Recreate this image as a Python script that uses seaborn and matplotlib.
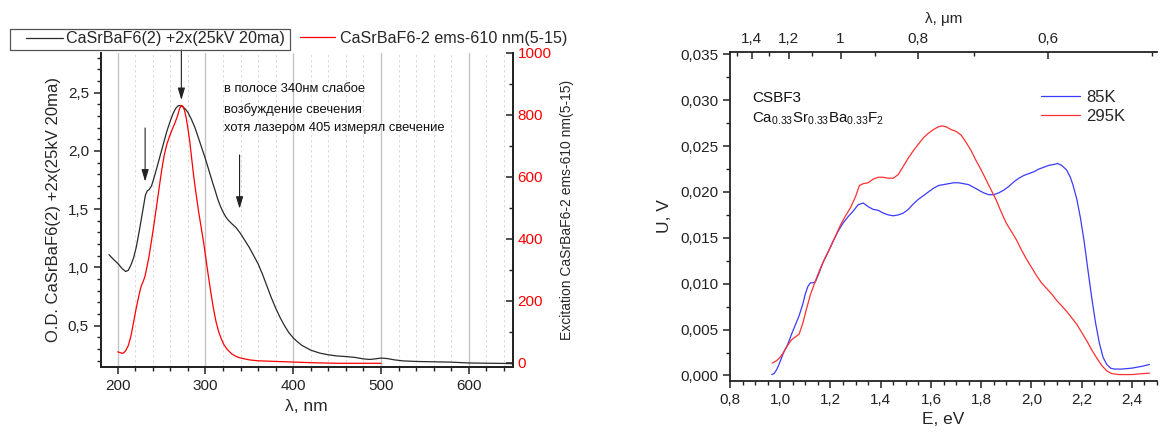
import numpy as np
import pandas as pd
import matplotlib
matplotlib.use("Agg")
import matplotlib.pyplot as plt
from matplotlib.ticker import MultipleLocator, FuncFormatter, FixedLocator
from matplotlib.lines import Line2D
from matplotlib.patches import Rectangle
import seaborn as sns

# ---- absorption / excitation spectra (left panel) ----
od_nm = [190, 195, 200, 205, 209, 212, 215, 218, 221, 224, 227, 229.5, 231.5, 233.5, 236,
         238.5, 241, 244, 248, 252, 256, 260, 263, 266, 269, 271, 274, 277, 280, 284, 288,
         292, 296, 300, 304, 308, 311, 314, 317, 320, 323, 326, 330, 335, 340, 345, 350,
         355, 360, 365, 370, 375, 380, 385, 390, 395, 400, 405, 410, 415, 420, 430, 440,
         450, 460, 470, 480, 487, 493, 500, 507, 515, 525, 540, 560, 580, 600, 620, 640, 650]
od_val = [1.11, 1.07, 1.035, 0.99, 0.965, 0.975, 1.02, 1.08, 1.17, 1.29, 1.42, 1.53, 1.62,
          1.655, 1.67, 1.70, 1.76, 1.84, 1.95, 2.06, 2.17, 2.26, 2.32, 2.365, 2.388, 2.39,
          2.38, 2.36, 2.33, 2.27, 2.20, 2.11, 2.02, 1.93, 1.83, 1.73, 1.66, 1.585, 1.525,
          1.475, 1.435, 1.405, 1.375, 1.34, 1.29, 1.23, 1.17, 1.10, 1.03, 0.94, 0.84, 0.74,
          0.65, 0.57, 0.50, 0.44, 0.395, 0.36, 0.33, 0.31, 0.29, 0.265, 0.25, 0.24, 0.235,
          0.228, 0.215, 0.21, 0.215, 0.222, 0.218, 0.207, 0.198, 0.193, 0.19, 0.187, 0.18,
          0.178, 0.176, 0.174]

exc_nm = [200, 203, 206, 209, 212, 215, 218, 221, 224, 226.5, 229, 231, 233, 235.5, 238,
          241, 244, 247, 250, 253, 256, 259, 262, 265, 268, 270, 272, 274, 276, 278, 280,
          282, 284, 286, 288, 290, 292, 294, 296, 298, 300, 303, 306, 309, 312, 315, 318,
          321, 325, 330, 335, 340, 350, 360, 380, 400, 420, 450, 480, 500]
exc_val = [35, 32, 30, 38, 55, 85, 130, 175, 215, 245, 262, 278, 305, 340, 385,
           440, 500, 560, 620, 670, 705, 730, 752, 772, 795, 815, 830, 828, 815, 790, 755,
           715, 665, 615, 570, 530, 490, 455, 420, 385, 345, 285, 228, 175, 132, 100, 77,
           58, 42, 28, 20, 15, 9, 6, 4, 2, 0, -2, -2, -2]

od_label = "CaSrBaF6(2) +2x(25kV 20ma)"
exc_label = "CaSrBaF6-2 ems-610 nm(5-15)"
note_lines = ["в полосе 340нм слабое", "возбуждение свечения", "хотя лазером 405 измерял свечение"]
arrow_nm = [272.5, 231.2, 338.8]

# ---- luminescence spectra (right panel) ----
e85 = [0.966, 0.975, 0.985, 0.995, 1.005, 1.015, 1.03, 1.045, 1.06, 1.075, 1.09, 1.10, 1.11,
       1.12, 1.13, 1.14, 1.155, 1.17, 1.19, 1.21, 1.23, 1.25, 1.27, 1.29, 1.31, 1.33, 1.35,
       1.37, 1.39, 1.41, 1.43, 1.45, 1.47, 1.49, 1.51, 1.53, 1.55, 1.57, 1.59, 1.61, 1.63,
       1.65, 1.67, 1.69, 1.71, 1.73, 1.75, 1.77, 1.79, 1.81, 1.83, 1.85, 1.87, 1.89, 1.91,
       1.93, 1.95, 1.97, 1.99, 2.01, 2.03, 2.05, 2.07, 2.09, 2.105, 2.12, 2.14, 2.155, 2.165,
       2.18, 2.195, 2.21, 2.225, 2.24, 2.255, 2.27, 2.285, 2.30, 2.315, 2.33, 2.36, 2.40,
       2.44, 2.47]
u85 = [0.0001, 0.0002, 0.0006, 0.0012, 0.0019, 0.0026, 0.0034, 0.0045, 0.0055, 0.0065,
       0.0078, 0.0089, 0.0097, 0.0101, 0.0101, 0.0102, 0.0112, 0.0123, 0.0134, 0.0146,
       0.0157, 0.0166, 0.0173, 0.0179, 0.0186, 0.0188, 0.0184, 0.0181, 0.0180, 0.0177,
       0.0175, 0.0174, 0.0175, 0.0177, 0.0181, 0.0187, 0.0192, 0.0196, 0.0200, 0.0204,
       0.0207, 0.0208, 0.0209, 0.0210, 0.0210, 0.0209, 0.0208, 0.0205, 0.0202, 0.0199,
       0.0197, 0.0197, 0.0199, 0.0202, 0.0206, 0.0211, 0.0215, 0.0218, 0.0220, 0.0222,
       0.0225, 0.0227, 0.0229, 0.0230, 0.0231, 0.0229, 0.0224, 0.0216, 0.0208, 0.0193,
       0.0172, 0.0146, 0.0115, 0.0085, 0.0058, 0.0036, 0.0020, 0.0012, 0.0008, 0.0007,
       0.0007, 0.0008, 0.0010, 0.0012]
e295 = [0.968, 0.985, 1.0, 1.015, 1.03, 1.045, 1.06, 1.075, 1.09, 1.105, 1.12, 1.14, 1.16,
        1.18, 1.20, 1.22, 1.24, 1.26, 1.28, 1.30, 1.315, 1.33, 1.35, 1.37, 1.39, 1.41, 1.43,
        1.45, 1.47, 1.49, 1.51, 1.53, 1.55, 1.57, 1.59, 1.61, 1.63, 1.645, 1.66, 1.68, 1.70,
        1.72, 1.74, 1.76, 1.78, 1.80, 1.82, 1.84, 1.86, 1.88, 1.90, 1.92, 1.94, 1.96, 1.98,
        2.0, 2.02, 2.04, 2.06, 2.08, 2.10, 2.12, 2.14, 2.16, 2.18, 2.20, 2.22, 2.24, 2.26,
        2.28, 2.30, 2.32, 2.35, 2.40, 2.44, 2.47]
u295 = [0.00135, 0.0016, 0.0020, 0.0026, 0.0033, 0.0039, 0.0042, 0.0045, 0.0057, 0.0073,
        0.0088, 0.0103, 0.0117, 0.0129, 0.0140, 0.0152, 0.0164, 0.0174, 0.0183, 0.0195,
        0.0207, 0.0209, 0.0210, 0.0214, 0.0216, 0.0216, 0.0215, 0.0215, 0.0219, 0.0228,
        0.0237, 0.0245, 0.0252, 0.0259, 0.0264, 0.0268, 0.0271, 0.0272, 0.0271, 0.0268,
        0.0266, 0.0262, 0.0254, 0.0245, 0.0234, 0.0224, 0.0213, 0.0202, 0.0191, 0.0178,
        0.0166, 0.0157, 0.0148, 0.0137, 0.0127, 0.0118, 0.0109, 0.0101, 0.0095, 0.0089,
        0.0082, 0.0076, 0.0070, 0.0063, 0.0056, 0.0047, 0.0038, 0.0028, 0.0019, 0.0011,
        0.0005, 0.0002, 0.0001, 0.0001, 0.0002, 0.00025]
lam_major = [1.4, 1.2, 1.0, 0.8, 0.6]
lam_minor = [1.5, 1.3, 1.1, 0.9, 0.7, 0.5]

sns.set_theme(style="ticks")
plt.rcParams["font.family"] = ["Liberation Sans", "DejaVu Sans"]
plt.rcParams["mathtext.fontset"] = "custom"
plt.rcParams["mathtext.rm"] = "Liberation Sans"
plt.rcParams["mathtext.it"] = "Liberation Sans"

W, H = 1160, 434
fig = plt.figure(figsize=(W / 100, H / 100), dpi=100)


def box(x0, y0, x1, y1):
    return [x0 / W, 1 - y1 / H, (x1 - x0) / W, (y1 - y0) / H]


def comma(fmt):
    return FuncFormatter(lambda v, p: fmt.format(v).replace(".", ","))


BLACK = "#2a2a2a"
RED = "#ff0000"
TICK_FS = 11

# ================= left panel =================
ax1 = fig.add_axes(box(100.7, 52.7, 512.7, 366.7))
ax1.set_xlim(180.6, 650)
ax1.set_ylim(0.148, 2.843)
ax1.xaxis.set_major_locator(MultipleLocator(100))
ax1.xaxis.set_minor_locator(MultipleLocator(20))
ax1.yaxis.set_major_locator(MultipleLocator(0.5))
ax1.yaxis.set_minor_locator(MultipleLocator(0.1))
ax1.yaxis.set_major_formatter(comma("{:.1f}"))
ax1.grid(axis="x", which="major", color="#c4c4c4", lw=1.0, ls="-")
ax1.grid(axis="x", which="minor", color="#d6d6d6", lw=0.6, ls=(0, (3, 3)))
ax1.set_axisbelow(True)

od_df = pd.DataFrame({"nm": od_nm, "od": od_val})
sns.lineplot(data=od_df, x="nm", y="od", ax=ax1, color=BLACK, lw=0.9,
             estimator=None, sort=False)
ax1.set_xlabel("λ, nm", fontsize=12.5, labelpad=5)
ax1.set_ylabel("O.D. CaSrBaF6(2) +2x(25kV 20ma)", fontsize=12, labelpad=5)
ax1.spines["top"].set_visible(False)
for s in ["left", "bottom", "right"]:
    ax1.spines[s].set_linewidth(1.3)
    ax1.spines[s].set_color("#222222")
ax1.tick_params(which="major", direction="out", length=5, width=1.1, labelsize=TICK_FS,
                colors="#222222")
ax1.tick_params(which="minor", direction="out", length=3, width=1.0, colors="#222222")

ax1r = ax1.twinx()
exc_df = pd.DataFrame({"nm": exc_nm, "exc": exc_val})
sns.lineplot(data=exc_df, x="nm", y="exc", ax=ax1r, color=RED, lw=0.9,
             estimator=None, sort=False)
ax1r.set_ylim(-13, 1000)
ax1r.yaxis.set_major_locator(MultipleLocator(200))
ax1r.yaxis.set_minor_locator(MultipleLocator(100))
ax1r.set_ylabel("Excitation CaSrBaF6-2 ems-610 nm(5-15)", fontsize=10, labelpad=6)
ax1r.spines["top"].set_visible(False)
for s in ["left", "bottom", "right"]:
    ax1r.spines[s].set_linewidth(1.3)
    ax1r.spines[s].set_color("#222222")
ax1r.tick_params(which="major", direction="in", length=5, width=1.1, labelsize=TICK_FS,
                 colors="#222222", labelcolor=RED)
ax1r.tick_params(which="minor", direction="in", length=3, width=1.0, colors="#222222")

# annotation text and arrows
for i, line in enumerate(note_lines):
    ax1.text(321, [2.529, 2.357, 2.2][i], line, fontsize=9.4, color="#111111",
             va="center", ha="left")
arrow_tail = [2.866, 2.197, 1.966]
arrow_head = [2.437, 1.737, 1.504]
for xa, yt, yh in zip(arrow_nm, arrow_tail, arrow_head):
    ax1.annotate("", xy=(xa, yh), xytext=(xa, yt), annotation_clip=False,
                 arrowprops=dict(arrowstyle="-|>,head_length=0.6,head_width=0.18",
                                 color="#222222", lw=0.8, shrinkA=0, shrinkB=0))

# legend: framed first entry, plain second entry
h_od = Line2D([], [], color=BLACK, lw=0.9)
h_exc = Line2D([], [], color=RED, lw=0.9)
fig.patches.append(Rectangle((10 / W, 1 - 50 / H), 280 / W, 21 / H,
                             transform=fig.transFigure, fill=False,
                             edgecolor="#555555", lw=0.9))
fig.legend(handles=[h_od], labels=[od_label], loc="center left",
           bbox_to_anchor=(26 / W, 1 - 39 / H), fontsize=11.6, frameon=False,
           handlelength=2.3, handletextpad=0.2, borderpad=0, borderaxespad=0)
fig.legend(handles=[h_exc], labels=[exc_label], loc="center left",
           bbox_to_anchor=(300 / W, 1 - 38 / H), fontsize=11.6, frameon=False,
           handlelength=2.2, handletextpad=0.3, borderpad=0, borderaxespad=0)

# ================= right panel =================
ax2 = fig.add_axes(box(730, 52, 1157, 381))
lum = pd.concat([
    pd.DataFrame({"E": e85, "U": u85, "T": "85K"}),
    pd.DataFrame({"E": e295, "U": u295, "T": "295K"}),
])
sns.lineplot(data=lum, x="E", y="U", hue="T", ax=ax2,
             palette={"85K": "#3b3bff", "295K": "#ff3030"}, lw=0.9,
             estimator=None, sort=False, legend=False)
ax2.set_xlim(0.8, 2.5)
ax2.set_ylim(-0.0006, 0.03525)
ax2.xaxis.set_major_locator(MultipleLocator(0.2))
ax2.xaxis.set_minor_locator(MultipleLocator(0.05))
ax2.yaxis.set_major_locator(MultipleLocator(0.005))
ax2.yaxis.set_minor_locator(MultipleLocator(0.0025))
ax2.xaxis.set_major_formatter(comma("{:.1f}"))
ax2.yaxis.set_major_formatter(comma("{:.3f}"))
ax2.set_xlabel("E, eV", fontsize=12.5, labelpad=4)
ax2.set_ylabel("U, V", fontsize=12.5, labelpad=6)
ax2.spines["top"].set_visible(False)
ax2.spines["right"].set_visible(False)
for s in ["left", "bottom"]:
    ax2.spines[s].set_linewidth(1.3)
    ax2.spines[s].set_color("#222222")
ax2.tick_params(which="major", direction="out", length=5, width=1.1, labelsize=TICK_FS,
                colors="#222222")
ax2.tick_params(which="minor", direction="out", length=3, width=1.0, colors="#222222")


def e_to_lam(e):
    e = np.asarray(e, dtype=float)
    return 1.24 / np.where(np.abs(e) < 1e-6, 1e-6, e)


top = ax2.secondary_xaxis("top", functions=(e_to_lam, e_to_lam))
top.xaxis.set_major_locator(FixedLocator(lam_major))
top.xaxis.set_minor_locator(FixedLocator(lam_minor))
top.xaxis.set_major_formatter(
    FuncFormatter(lambda v, p: "{:g}".format(round(v, 2)).replace(".", ",")))
top.spines["top"].set_linewidth(1.3)
top.spines["top"].set_color("#222222")
top.tick_params(which="major", direction="in", length=5, width=1.1, labelsize=TICK_FS,
                colors="#222222", pad=4)
top.tick_params(which="minor", direction="in", length=3, width=1.0, colors="#222222")
top.set_xlabel("λ, μm", fontsize=11, labelpad=7)

ax2.text(0.888, 0.0302, "CSBF3", fontsize=11, va="center", ha="left", color="#111111")
ax2.text(0.888, 0.0280, "Ca$_{0.33}$Sr$_{0.33}$Ba$_{0.33}$F$_2$", fontsize=10.8,
         va="center", ha="left", color="#111111")

h85 = Line2D([], [], color="#3b3bff", lw=0.9)
h295 = Line2D([], [], color="#ff3030", lw=0.9)
ax2.legend(handles=[h85, h295], labels=["85K", "295K"], loc="upper left",
           bbox_to_anchor=((1041 - 730) / 427, 1 - (90 - 52) / 329), frameon=False,
           fontsize=12, handlelength=2.35, handletextpad=0.35, labelspacing=0.25,
           borderpad=0, borderaxespad=0)

fig.savefig("out.png", dpi=100)
